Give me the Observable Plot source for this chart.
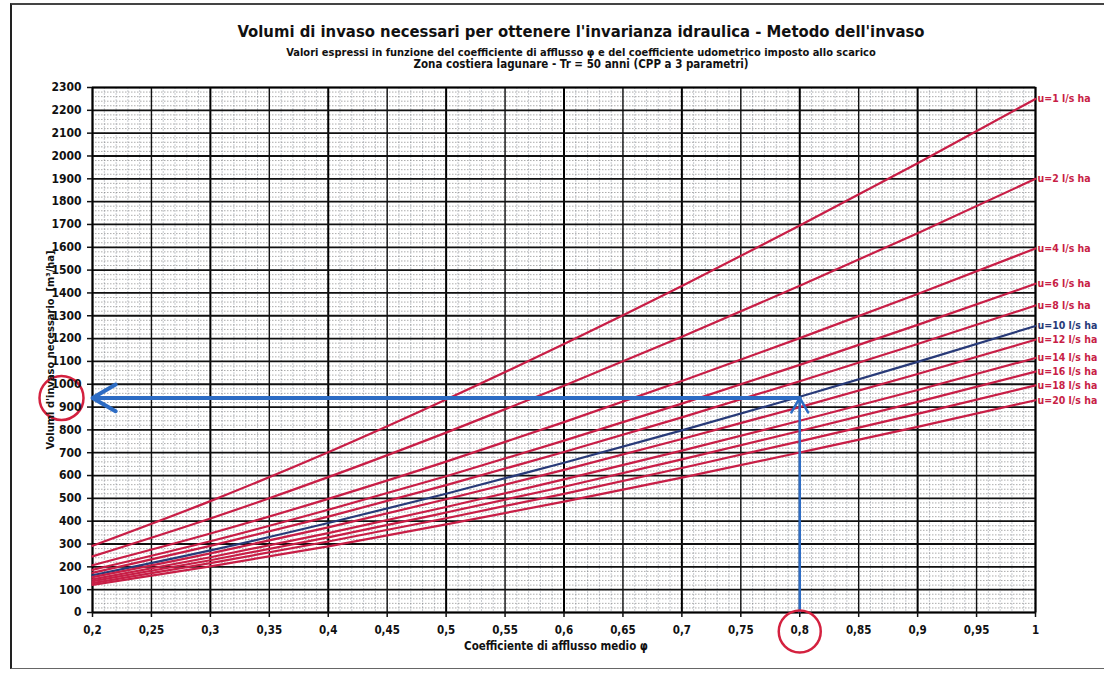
<!DOCTYPE html>
<html>
<head>
<meta charset="utf-8">
<script src="https://cdn.jsdelivr.net/npm/d3@7"></script>
<script src="https://cdn.jsdelivr.net/npm/@observablehq/plot@0.6"></script>
<style>
  body { margin: 0; background: #fff; }
  #wrap { position: relative; width: 1104px; height: 673px; overflow: hidden;
    font-family: "Liberation Sans Narrow", "Arial Narrow", "DejaVu Sans Condensed", "Liberation Sans", sans-serif; }
  #frame { position: absolute; left: 10px; top: 3px; width: 1092px; height: 663px;
    border-left: 2px solid #222; border-top: 2px solid #444; border-bottom: 1px solid #666; pointer-events: none; }
  #head { position: relative; height: 70px; }
  #head div { position: absolute; left: 58px; right: 0; text-align: center; font-weight: bold; color: #111; white-space: nowrap; }
  #t1 { top: 22px; font-size: 16.5px; }
  #t2 { top: 46px; font-size: 11px; }
  #t3 { top: 57px; font-size: 11.5px; }
  #chart svg { display: block; overflow: visible; }
</style>
</head>
<body>
<div id="wrap">
  <div id="head">
    <div id="t1">Volumi di invaso necessari per ottenere l'invarianza idraulica - Metodo dell'invaso</div>
    <div id="t2">Valori espressi in funzione del coefficiente  di afflusso  φ e del coefficiente udometrico imposto allo scarico</div>
    <div id="t3">Zona costiera lagunare  -  Tr = 50 anni (CPP a 3 parametri)</div>
  </div>
  <div id="chart"></div>
  <div id="frame"></div>
</div>
<script>
// Coefficiente di afflusso (x) at which the curves were read
const phi = [0.2, 0.3, 0.4, 0.5, 0.6, 0.7, 0.8, 0.9, 1.0];

// Series names (coefficiente udometrico imposto)
const seriesNames = ["u=1 l/s ha", "u=2 l/s ha", "u=4 l/s ha", "u=6 l/s ha", "u=8 l/s ha",
  "u=10 l/s ha", "u=12 l/s ha", "u=14 l/s ha", "u=16 l/s ha", "u=18 l/s ha", "u=20 l/s ha"];

// Volumes [m3/ha] at each phi
const u1  = [292, 488, 702, 933, 1176, 1430, 1695, 1968, 2250];
const u2  = [246, 412, 593, 788,  993, 1208, 1431, 1662, 1900];
const u4  = [207, 346, 498, 661,  834, 1014, 1202, 1395, 1595];
const u6  = [187, 312, 450, 597,  753,  915, 1085, 1260, 1440];
const u8  = [174, 292, 420, 558,  703,  855, 1013, 1176, 1345];
const u10 = [163, 272, 392, 520,  656,  798,  945, 1098, 1255];
const u12 = [155, 259, 373, 496,  625,  760,  900, 1045, 1195];
const u14 = [145, 242, 348, 462,  583,  709,  840,  975, 1115];
const u16 = [137, 229, 329, 438,  551,  671,  795,  923, 1055];
const u18 = [129, 216, 311, 413,  520,  633,  750,  870,  995];
const u20 = [121, 202, 290, 386,  486,  591,  701,  813,  930];
const seriesValues = [u1, u2, u4, u6, u8, u10, u12, u14, u16, u18, u20];

// Tick labels
const xTicks = [0.2, 0.25, 0.3, 0.35, 0.4, 0.45, 0.5, 0.55, 0.6, 0.65, 0.7, 0.75, 0.8, 0.85, 0.9, 0.95, 1];
const yTicks = [0, 100, 200, 300, 400, 500, 600, 700, 800, 900, 1000, 1100, 1200, 1300, 1400, 1500,
  1600, 1700, 1800, 1900, 2000, 2100, 2200, 2300];

// Worked example drawn on the chart
const example = [{ phi: 0.8, volume: 940 }];

const xLabel = "Coefficiente di afflusso medio φ";
const yLabel = "Volumi d'invaso necessario  [m³/ha]";

const RED = "#c81e46";
const NAVY = "#283a78";
const BLUE = "#2d6cc4";

const rows = [];
seriesNames.forEach((s, i) => phi.forEach((p, j) => rows.push({ s, phi: p, v: seriesValues[i][j] })));
const ends = rows.filter(d => d.phi === phi[phi.length - 1]);
const colorOf = s => s === "u=10 l/s ha" ? NAVY : RED;

const xMinor = d3.range(20, 101).map(d => d / 100);
const yMinor = d3.range(0, 2301, 20);
const xMajor = xTicks.filter((d, i) => i % 2 === 0);
const xMid = xTicks.filter((d, i) => i % 2 === 1);

const fontFamily = '"Liberation Sans Narrow", "Arial Narrow", "DejaVu Sans Condensed", "Liberation Sans", sans-serif';

const chart = Plot.plot({
  width: 1104,
  height: 603,
  marginTop: 17,
  marginBottom: 61,
  marginLeft: 92,
  marginRight: 69,
  x: { domain: [0.2, 1] },
  y: { domain: [0, 2300] },
  style: { fontFamily, background: "transparent", color: "#111" },
  marks: [
    // minor grid
    Plot.ruleX(xMinor, { stroke: "#8a8f99", strokeWidth: 0.6, strokeOpacity: 0.8, strokeDasharray: "2,1" }),
    Plot.ruleY(yMinor, { stroke: "#555", strokeWidth: 0.7, strokeOpacity: 0.7, strokeDasharray: "1.5,1.5" }),
    // major grid
    Plot.ruleX(xMid, { stroke: "#111", strokeWidth: 1.4 }),
    Plot.ruleX(xMajor, { stroke: "#000", strokeWidth: 2 }),
    Plot.ruleY(yTicks, { stroke: "#111", strokeWidth: 1.8 }),
    Plot.frame({ stroke: "#000", strokeWidth: 1.5 }),
    // curves
    Plot.line(rows, { x: "phi", y: "v", z: "s", stroke: d => colorOf(d.s), strokeWidth: 2.2, curve: "monotone-x" }),
    Plot.text(ends, { x: "phi", y: "v", text: "s", fill: d => colorOf(d.s), dx: 2, textAnchor: "start",
      fontWeight: "bold", fontSize: 10.5 }),
    // worked example arrows
    Plot.arrow(example, { x1: "phi", y1: "volume", x2: () => 0.2, y2: "volume", stroke: BLUE,
      strokeWidth: 4, headLength: 10, inset: 0 }),
    Plot.arrow(example, { x1: "phi", y1: () => 0, x2: "phi", y2: "volume", stroke: BLUE,
      strokeWidth: 2.5, headLength: 10, inset: 0 }),
    // red highlight circles
    Plot.dot(example, { x: "phi", y: () => 0, dy: 19, r: 21, stroke: "#d4213f", strokeWidth: 2.5, fill: "none" }),
    Plot.dot(example, { x: () => 0.2, y: "volume", dx: -31, r: 22, stroke: "#d4213f", strokeWidth: 2.5, fill: "none" }),
    // axes
    Plot.axisX(xTicks, { tickFormat: d => String(d).replace(".", ","), tickSize: 5, tickPadding: 8,
      fontSize: 11.5, fontWeight: "bold", label: null, strokeWidth: 1.5 }),
    Plot.axisY(yTicks, { tickFormat: d => String(d), tickSize: 5, tickPadding: 6,
      fontSize: 12, fontWeight: "bold", label: null, strokeWidth: 1.5 }),
    Plot.text([xLabel], { frameAnchor: "bottom", dy: 37, dx: -8, fontSize: 11.5, fontWeight: "bold" }),
    Plot.text([yLabel], { frameAnchor: "left", textAnchor: "middle", rotate: -90, dx: -42, fontSize: 11, fontWeight: "bold" })
  ]
});
document.getElementById("chart").appendChild(chart);
</script>
</body>
</html>
